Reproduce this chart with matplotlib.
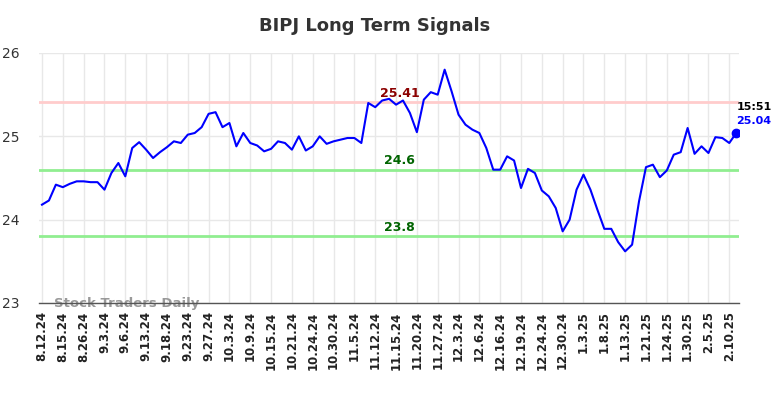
import matplotlib
matplotlib.use("Agg")
import matplotlib.pyplot as plt

dates = ["8.12.24","8.15.24","8.26.24","9.3.24","9.6.24","9.13.24","9.18.24","9.23.24",
         "9.27.24","10.3.24","10.9.24","10.15.24","10.21.24","10.24.24","10.30.24","11.5.24",
         "11.12.24","11.15.24","11.20.24","11.27.24","12.3.24","12.6.24","12.16.24","12.19.24",
         "12.24.24","12.30.24","1.3.25","1.8.25","1.13.25","1.21.25","1.24.25","1.30.25",
         "2.5.25","2.10.25"]

prices = [24.18, 24.23, 24.42, 24.39, 24.43, 24.46, 24.46, 24.45, 24.45, 24.36,
          24.56, 24.68, 24.52, 24.86, 24.93, 24.84, 24.74, 24.81, 24.87, 24.94,
          24.92, 25.02, 25.04, 25.11, 25.27, 25.29, 25.11, 25.16, 24.88, 25.04,
          24.92, 24.89, 24.82, 24.85, 24.94, 24.92, 24.84, 25.00, 24.83, 24.88,
          25.00, 24.91, 24.94, 24.96, 24.98, 24.98, 24.92, 25.40, 25.35, 25.43,
          25.45, 25.38, 25.43, 25.28, 25.05, 25.44, 25.53, 25.50, 25.80, 25.54,
          25.26, 25.14, 25.08, 25.04, 24.86, 24.60, 24.60, 24.76, 24.71, 24.38,
          24.61, 24.56, 24.35, 24.28, 24.14, 23.86, 24.00, 24.36, 24.54, 24.36,
          24.12, 23.89, 23.89, 23.73, 23.62, 23.70, 24.22, 24.63, 24.66, 24.51,
          24.59, 24.78, 24.81, 25.10, 24.79, 24.88, 24.80, 24.99, 24.98, 24.92,
          25.04]

resistance = 25.41
supports = [24.6, 23.8]
last_time = "15:51"
yticks = [23, 24, 25, 26]

fig = plt.figure(figsize=(7.84, 3.98), dpi=100)
ax = fig.add_axes([39/784, 95/398, 700/784, 250/398])

x = list(range(len(prices)))
tick_pos = [i * 3 for i in range(len(dates))]

ax.set_xlim(-0.43, 100.4)
ax.set_ylim(23, 26)

for t in tick_pos:
    ax.axvline(t, color="#e8e8e8", lw=1, zorder=0)
for yv in yticks:
    ax.axhline(yv, color="#e8e8e8", lw=1, zorder=0)

ax.axhline(resistance, color="#ffcccc", lw=2, zorder=1)
for s in supports:
    ax.axhline(s, color="#90ee90", lw=2, zorder=1)

ax.plot(x, prices, color="#0000ff", lw=1.5, zorder=3)
ax.plot(x[-1], prices[-1], "o", color="#0000ff", ms=6, zorder=4)

mid = 51.5
ax.text(mid, resistance + 0.03, f"{resistance:.2f}", color="#8b0000", fontsize=9,
        fontweight="bold", ha="center", va="bottom", zorder=5)
for s in supports:
    ax.text(mid, s + 0.03, f"{s}", color="#006400", fontsize=9,
            fontweight="bold", ha="center", va="bottom", zorder=5)

ax.text(x[-1], prices[-1] + 0.25, last_time, color="black", fontsize=8,
        fontweight="bold", ha="left", va="bottom", zorder=5)
ax.text(x[-1], prices[-1] + 0.09, f"{prices[-1]:.2f}", color="#0000ff", fontsize=8,
        fontweight="bold", ha="left", va="bottom", zorder=5)

ax.text(1.7, 23.0, "Stock Traders Daily", color="#999999", fontsize=9.5,
        fontweight="bold", ha="left", va="center", zorder=2)

ax.set_xticks(tick_pos)
ax.set_xticklabels(dates, rotation=90, fontsize=8.5, fontweight="bold", color="#222222")
ax.set_yticks(yticks)
ax.set_yticklabels([str(v) for v in yticks], fontsize=10, color="#333333")
ax.tick_params(axis="both", length=0, pad=6)
ax.tick_params(axis="y", pad=14)

for side in ["top", "right", "left"]:
    ax.spines[side].set_visible(False)
ax.spines["bottom"].set_color("#555555")
ax.spines["bottom"].set_linewidth(1)

fig.text(375/784, 1 - 26/398, "BIPJ Long Term Signals", ha="center", va="center",
         fontsize=13, fontweight="bold", color="#333333")

fig.savefig("out.png", dpi=100)
